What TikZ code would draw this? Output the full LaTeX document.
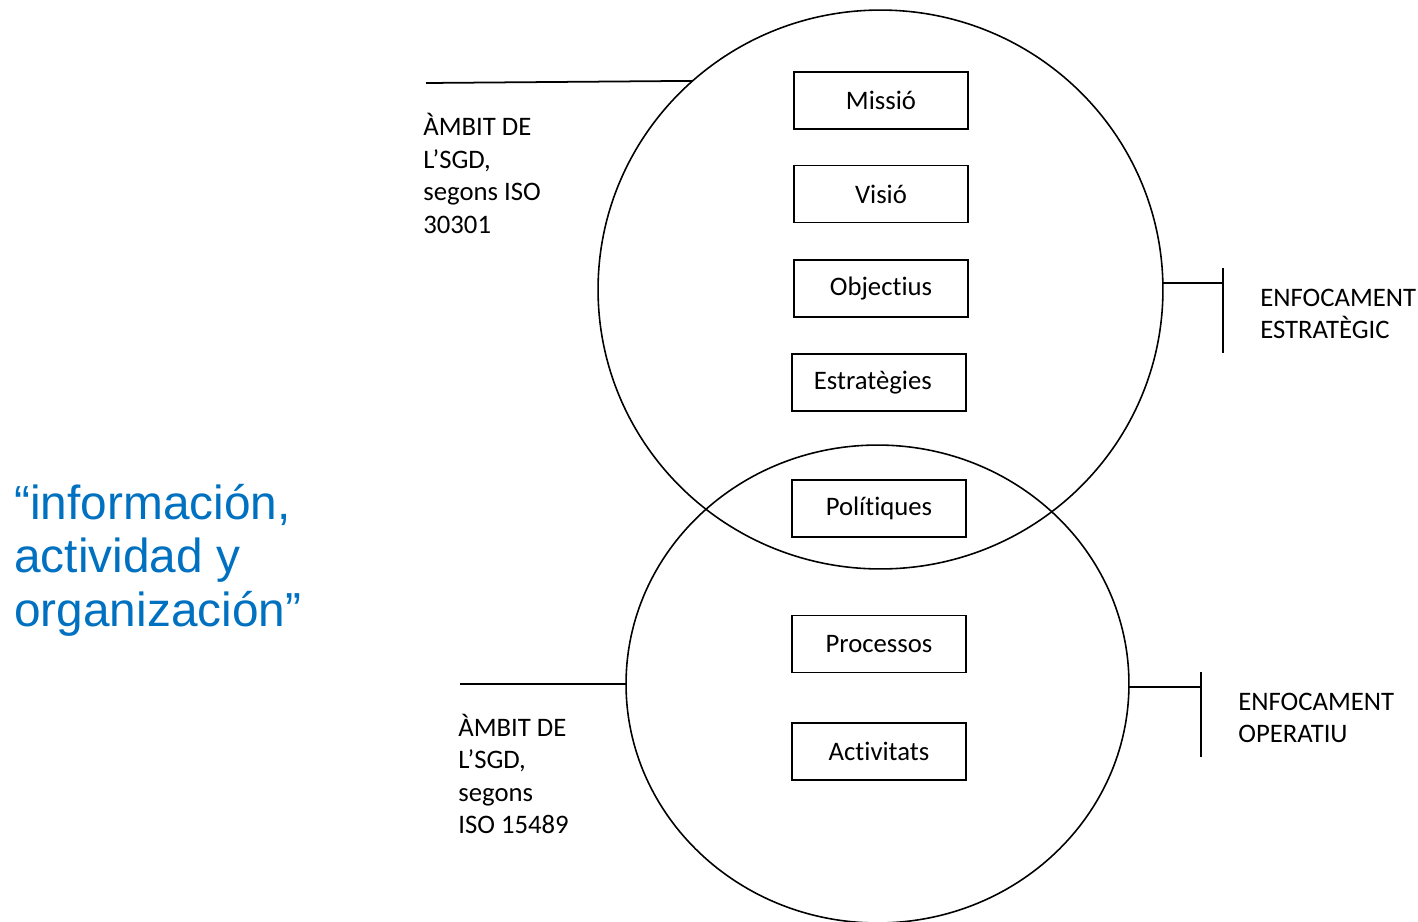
\documentclass[tikz,border=0pt]{standalone}
\usepackage{fontspec}
\setmainfont{Carlito}[Ligatures=NoCommon]
\newfontfamily\arialfont{Liberation Sans}
\usetikzlibrary{shapes.geometric}
\definecolor{blau}{HTML}{0070C0}
\tikzset{
    caixa/.style={draw, line width=1pt, minimum width=3.48cm, minimum height=1.14cm,
        inner sep=0pt, font=\fontsize{15.2}{18.5}\selectfont},
    etiqueta/.style={anchor=base west, align=left, inner sep=0pt,
        font=\fontsize{15.2}{18.5}\selectfont},
    cercle/.style={draw, ellipse, line width=0.9pt, inner sep=0pt, outer sep=0pt},
}
\begin{document}
\begin{tikzpicture}[x=0.02cm, y=-0.02cm]
    \useasboundingbox (0,0) rectangle (1418,921);
    % Cercles
    \node[cercle, minimum width=11.3cm, minimum height=11.18cm] (dalt) at (880.5,289.5) {};
    \node[cercle, minimum width=10.06cm, minimum height=9.56cm] (baix) at (877.5,684) {};
    % Caixes
    \node[caixa] (missio) at (881,100.5) {Missió};
    \node[caixa] (visio) at (881,194) {Visió};
    \node[caixa] (objectius) at (881,288.5) {Objectius};
    \node[caixa] (estrategies) at (879,382.5) {\hspace*{-7pt}Estratègies};
    \node[caixa] (politiques) at (879,508.5) {Polítiques};
    \node[caixa] (processos) at (879,644) {Processos};
    \node[caixa] (activitats) at (879,751.5) {Activitats};
    % Ambit (base = darrera linia)
    \coordinate (a1) at (426,83);
    \coordinate (a2) at (460,684);
    \draw[line width=1pt] (a1) -- (dalt.132.5);
    \draw[line width=1pt] (a2) -- (baix.west);
    \node[etiqueta] (ambit1) at (423,233) {ÀMBIT DE\\L’SGD,\\segons ISO\\30301};
    \node[etiqueta] (ambit2) at (458,833.5) {ÀMBIT DE\\L’SGD,\\segons\\ISO 15489};
    % Enfocament
    \coordinate (e1) at (1223,283);
    \coordinate (e2) at (1201,687);
    \draw[line width=1pt]
    (dalt.east |- e1) -- (e1)
    (1223,268) -- (1223,353)
    (baix.east |- e2) -- (e2)
    (1201,672) -- (1201,757)
    ;
    \node[etiqueta] (enf1) at (1260,338.5) {ENFOCAMENT\\ESTRATÈGIC};
    \node[etiqueta] (enf2) at (1238,742.5) {ENFOCAMENT\\OPERATIU};
    % Cita
    \node[anchor=base west, align=left, inner sep=0pt, text=blau,
        font=\arialfont\fontsize{27.2}{30.2}\selectfont] (cita) at (14,626)
        {“información,\\actividad y\\organización”};
\end{tikzpicture}
\end{document}
